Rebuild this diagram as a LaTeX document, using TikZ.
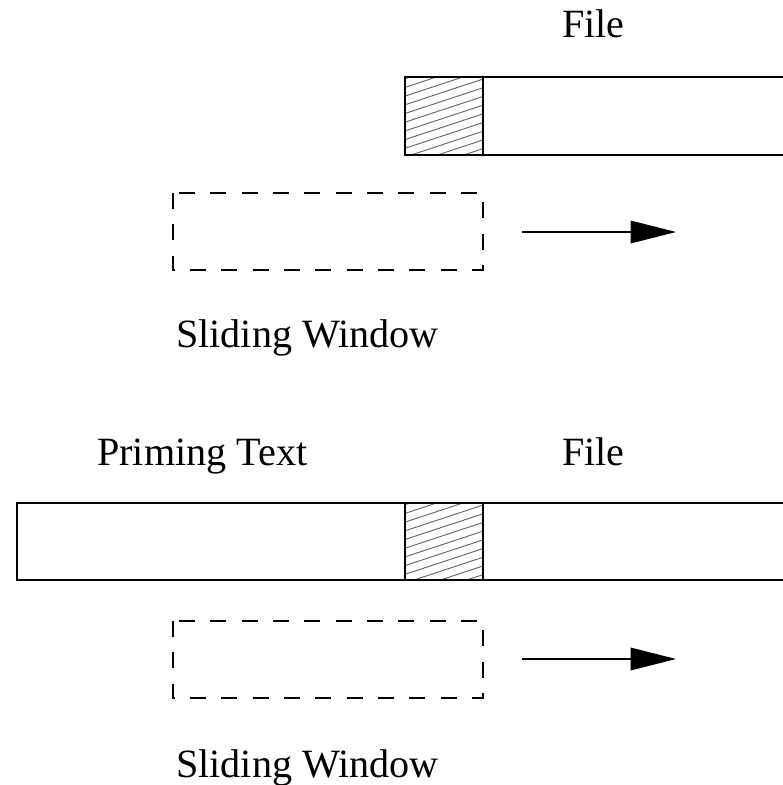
\documentclass[tikz,border=0pt]{standalone}
\usepackage{fontspec}
\setmainfont{Liberation Serif}
\usetikzlibrary{arrows.meta}
\begin{document}
\begin{tikzpicture}[x=0.75pt,y=-0.75pt,
  label/.style={anchor=base west,inner sep=0pt,font=\fontsize{30.1}{33}\selectfont},
  filebox/.style={draw,line width=1.15pt},
  window/.style={draw,line width=1.2pt,dash pattern=on 12pt off 11.5pt},
  movearrow/.style={line width=1pt,-{Triangle[length=34pt,width=17pt]}},
  hatchline/.style={draw=black!60,line width=0.7pt}]
\useasboundingbox (0,0) rectangle (782,785);

% ---- upper part: file only ----
\node[label] (file1) at (562,37) {File};
\begin{scope}
  \clip (405,77) rectangle (483,155);
  \foreach \k in {0,...,16}
    \draw[hatchline] (395,82+8.7*\k) -- (495,49+8.7*\k);
\end{scope}
\draw[filebox] (483,77) rectangle (790,155);
\draw[filebox] (405,77) rectangle (483,155);
\draw[window] (173,193) rectangle (483,270);
\coordinate (a1s) at (522,232);
\coordinate (a1e) at (676,232);
\draw[movearrow] (a1s) -- (a1e);
\node[label] (sw1) at (176,347) {Sliding Window};

% ---- lower part: priming text followed by file ----
\node[label] (prime) at (97,465) {Priming Text};
\node[label] (file2) at (562,465) {File};
\begin{scope}
  \clip (405,503) rectangle (483,580);
  \foreach \k in {0,...,16}
    \draw[hatchline] (395,508+8.7*\k) -- (495,475+8.7*\k);
\end{scope}
\draw[filebox] (17,503) rectangle (405,580);
\draw[filebox] (483,503) rectangle (790,580);
\draw[filebox] (405,503) rectangle (483,580);
\draw[window] (173,621) rectangle (483,698);
\coordinate (a2s) at (522,659);
\coordinate (a2e) at (676,659);
\draw[movearrow] (a2s) -- (a2e);
\node[label] (sw2) at (176,777) {Sliding Window};
\end{tikzpicture}
\end{document}
